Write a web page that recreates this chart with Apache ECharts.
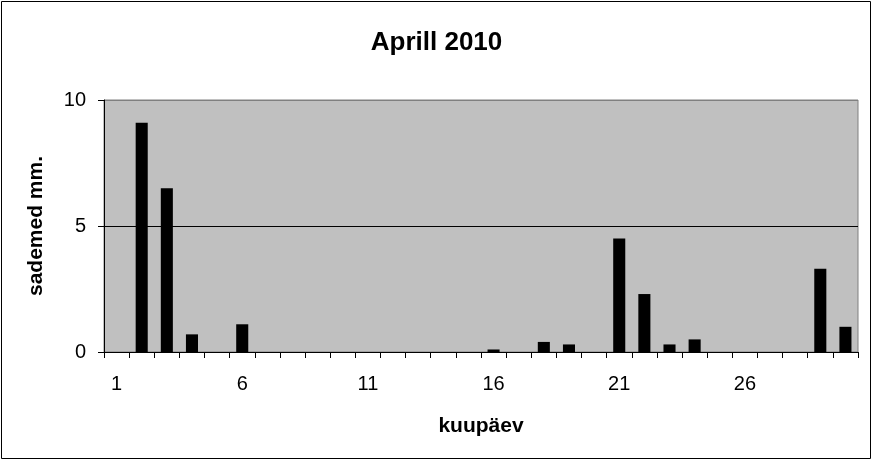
<!DOCTYPE html>
<html><head><meta charset="utf-8">
<script src="https://cdn.jsdelivr.net/npm/echarts@6/dist/echarts.min.js"></script>
<style>html,body{margin:0;padding:0;background:#fff}#c{width:873px;height:462px}</style>
</head><body><div id="c"></div>
<script>
const days = Array.from({length:30},(_,i)=>String(i+1));
const precip = [0,9.1,6.5,0.7,0,1.1,0,0,0,0,0,0,0,0,0,0.1,0,0.4,0.3,0,4.5,2.3,0.3,0.5,0,0,0,0,3.3,1.0];
const yTicks = [0,5,10];
const font = 'Liberation Sans, Arial, sans-serif';
const chart = echarts.init(document.getElementById('c'));
chart.setOption({
  animation:false,
  graphic:[{type:'rect',shape:{x:1.5,y:1.5,width:869,height:457},style:{fill:null,stroke:'#000',lineWidth:1},silent:true}],
  title:{text:'Aprill 2010',left:'center',top:25,textStyle:{fontFamily:font,fontSize:26,fontWeight:'bold',color:'#000'}},
  grid:{left:104,right:15,top:100,bottom:110,show:true,backgroundColor:'#C0C0C0',borderColor:'#808080',borderWidth:1},
  xAxis:{type:'category',data:days,boundaryGap:true,
    name:'kuupäev',nameLocation:'middle',nameGap:64,nameTextStyle:{fontFamily:font,fontSize:21,fontWeight:'bold',color:'#000'},
    axisLine:{lineStyle:{color:'#000',width:1}},
    axisTick:{show:true,interval:0,length:6,lineStyle:{color:'#000'}},
    axisLabel:{interval:4,fontFamily:font,fontSize:20,color:'#000',margin:22}},
  yAxis:{type:'value',min:0,max:10,interval:5,
    name:'sademed mm.',nameLocation:'middle',nameGap:57,nameTextStyle:{fontFamily:font,fontSize:21,fontWeight:'bold',color:'#000'},
    axisLine:{show:true,lineStyle:{color:'#000'}},
    axisTick:{show:true,length:6,lineStyle:{color:'#000'}},
    axisLabel:{fontFamily:font,fontSize:20,color:'#000',margin:18}},
  series:[{type:'bar',data:precip,barWidth:'48%',itemStyle:{color:'#000'}}]
});
chart.setOption({yAxis:{splitLine:{show:true,lineStyle:{color:['#000','#000','#808080'],width:1}}}});
</script></body></html>
